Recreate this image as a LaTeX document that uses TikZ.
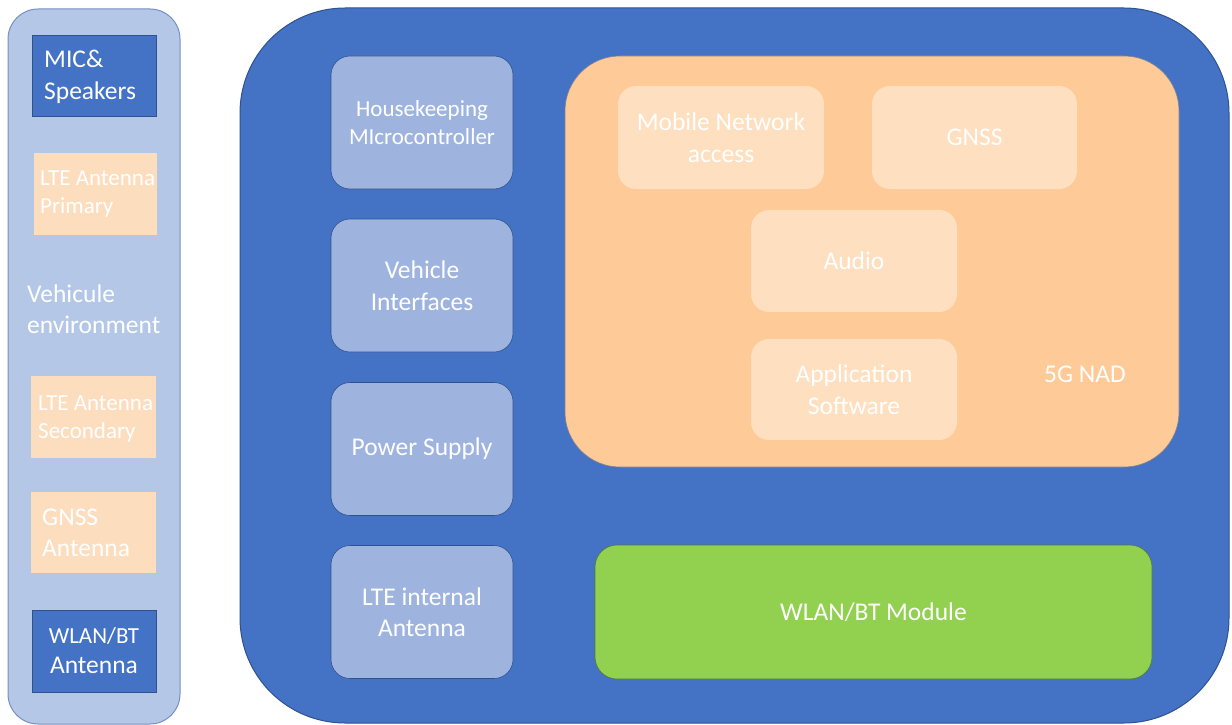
\documentclass[tikz,border=0pt]{standalone}
\usepackage{fontspec}
\setmainfont{Carlito}
\definecolor{envfill}{HTML}{B4C7E7}
\definecolor{envline}{HTML}{7390C4}
\definecolor{mainblue}{HTML}{4472C4}
\definecolor{darkblue}{HTML}{2F528F}
\definecolor{peach}{HTML}{FCDDBE}
\definecolor{lightblue}{HTML}{9EB4DF}
\definecolor{nadorange}{HTML}{FECA97}
\definecolor{subpeach}{HTML}{FEDFBF}
\definecolor{wlangreen}{HTML}{92D050}
\definecolor{greenline}{HTML}{4F7A3A}
\begin{document}
\begin{tikzpicture}[x=1pt,y=-1pt,
  shapebox/.style={rectangle, inner sep=0pt, text=white, align=center},
  txt/.style={inner sep=0pt, text=white},
  fa/.style={font=\fontsize{23}{28}\selectfont},
  fb/.style={font=\fontsize{25.5}{31.5}\selectfont},
  lblue/.style={shapebox, fill=lightblue, draw=darkblue, line width=0.6pt, rounded corners=19pt, minimum width=182pt, minimum height=133pt, fb},
  subbox/.style={shapebox, fill=subpeach, rounded corners=18pt, fb},
  peachbox/.style={shapebox, fill=peach, draw=none},
  navybox/.style={shapebox, fill=mainblue, draw=darkblue, line width=0.8pt},
]
\useasboundingbox (0,0) rectangle (1232,725);
% left environment panel
\node[shapebox, fill=envfill, draw=envline, line width=1pt, rounded corners=30pt,
      minimum width=172pt, minimum height=715pt] (env) at (94,366.5) {};
\node[navybox, minimum width=124pt, minimum height=81pt] (mic) at (94,75.5) {};
\node[txt, fb, align=left, anchor=west] (mict) at (44,77) {MIC\&\\Speakers};
\node[peachbox, minimum width=123pt, minimum height=82pt] (ltep) at (95.5,194) {};
\node[txt, fa, align=left, anchor=west] (ltept) at (40,194) {LTE Antenna\\Primary};
\node[txt, fb, align=left, anchor=west] (envt) at (27,309) {Vehicule\\environment};
\node[peachbox, minimum width=125pt, minimum height=82pt] (ltes) at (93.5,417) {};
\node[txt, fa, align=left, anchor=west] (ltest) at (38,419) {LTE Antenna\\Secondary};
\node[peachbox, minimum width=125pt, minimum height=81pt] (gnssa) at (93.5,532.5) {};
\node[txt, fb, align=left, anchor=west] (gnssat) at (42,533) {GNSS\\Antenna};
\node[navybox, minimum width=124pt, minimum height=82pt] (wlana) at (94,651) {};
\node[txt, align=center, font=\fontsize{25.5}{30}\selectfont] (wlanat) at (94,651) {{\fontsize{23}{30}\selectfont WLAN/BT}\\Antenna};
% main panel
\node[shapebox, fill=mainblue, draw=darkblue, line width=1pt, rounded corners=105pt,
      minimum width=989pt, minimum height=715pt] (main) at (734.5,365.5) {};
\node[lblue, fa] (hk) at (422,122.5) {Housekeeping\\MIcrocontroller};
\node[lblue] (vi) at (422,285.5) {Vehicle\\Interfaces};
\node[lblue] (ps) at (422,449) {Power Supply};
\node[lblue] (lte) at (422,612) {LTE internal\\Antenna};
% 5G NAD
\node[shapebox, fill=nadorange, draw=darkblue!60!nadorange, line width=0.6pt, rounded corners=55pt,
      minimum width=614pt, minimum height=411pt] (nad) at (872,261.5) {};
\node[subbox, minimum width=206pt, minimum height=103pt] (mna) at (721,137.5) {Mobile Network\\access};
\node[subbox, minimum width=205pt, minimum height=103pt] (gnss) at (974.5,137.5) {GNSS};
\node[subbox, minimum width=206pt, minimum height=102pt] (audio) at (854,261) {Audio};
\node[subbox, minimum width=206pt, minimum height=101pt] (app) at (854,389.5) {Application\\Software};
\node[txt, fb] (nadt) at (1085,374) {5G NAD};
% WLAN/BT module
\node[shapebox, fill=wlangreen, draw=greenline, line width=0.6pt, rounded corners=22pt,
      minimum width=557pt, minimum height=134pt, fb] (wlan) at (873.5,612) {WLAN/BT Module};
\end{tikzpicture}
\end{document}
